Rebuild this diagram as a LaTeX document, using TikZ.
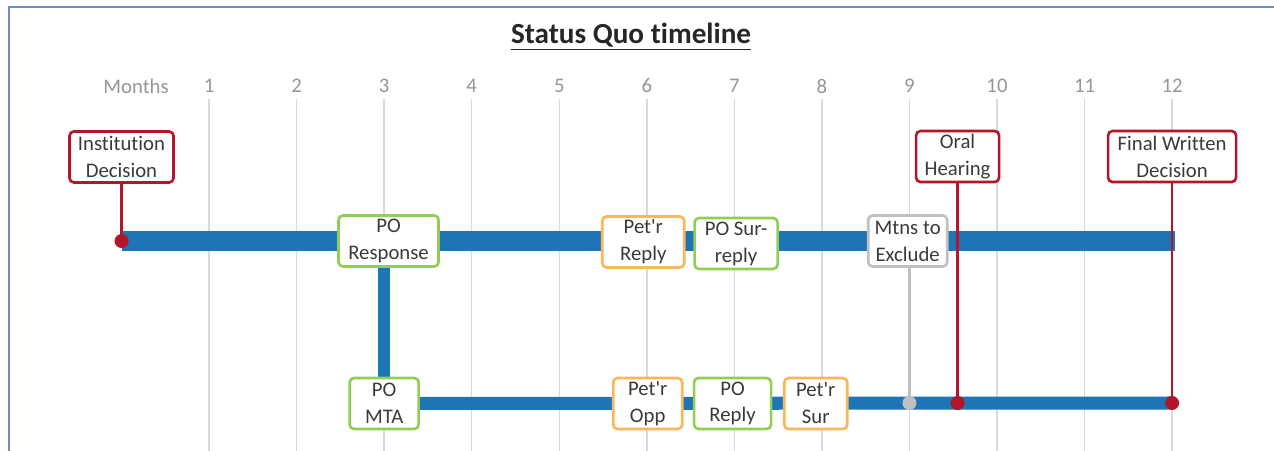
\documentclass[tikz,border=0pt]{standalone}
\usepackage{fontspec}
\setmainfont{Carlito}[Ligatures=CommonOff]
\usetikzlibrary{backgrounds}
\definecolor{barblue}{RGB}{30,117,182}
\definecolor{evred}{RGB}{178,22,40}
\definecolor{evgreen}{RGB}{146,206,84}
\definecolor{evorange}{RGB}{250,182,92}
\definecolor{evgray}{RGB}{192,192,192}
\definecolor{gridgray}{RGB}{217,217,217}
\definecolor{monthgray}{RGB}{150,150,150}
\definecolor{frameblue}{RGB}{105,142,200}
\definecolor{boxtext}{RGB}{58,58,58}
\begin{document}
\begin{tikzpicture}[x=1.751cm, y=1cm,
    every node/.style={font=\fontsize{11.8}{15.3}\selectfont, text=boxtext},
    evt/.style={draw, fill=white, rounded corners=2.5pt, line width=1.5pt,
      align=center, minimum height=1.02cm, inner sep=1pt},
    redbox/.style={evt, draw=evred},
    greenbox/.style={evt, draw=evgreen},
    orangebox/.style={evt, draw=evorange},
    graybox/.style={evt, draw=evgray},
    dot/.style={circle, inner sep=0pt, minimum size=0.28cm},
    grid/.style={gridgray, line width=0.8pt},
    bar/.style={barblue, line width=11.3pt},
    lowbar/.style={barblue, line width=7.4pt},
    stem/.style={evred, line width=1.3pt}]
  \useasboundingbox (-1.388,-4.2) rectangle (13.164,4.82);
  % Frame
  \draw[frameblue, line width=1.2pt] (-1.285,-4.3) -- (-1.285,4.68) -- (13.3,4.68);

  % Title
  \node[text=black!85, font=\fontsize{16.6}{19}\selectfont\bfseries] (title) at (5.82,4.08)
    {\underline{Status Quo timeline}};

  % Months
  \node[anchor=east, text=monthgray] (months) at (0.61,3.1) {Months};
  \foreach \m in {1,...,12}{
    \node[text=monthgray] (m\m) at (\m,3.1) {\m};
  }
  \coordinate (bot) at (0,-4.2);

  % Events
  \node[redbox, minimum width=2.08cm] (inst) at (0,1.68) {Institution\\Decision};
  \node[redbox, minimum width=1.66cm] (oral) at (9.55,1.69) {Oral\\Hearing};
  \node[redbox, minimum width=2.56cm] (final) at (12,1.69) {Final Written\\Decision};

  \node[greenbox, minimum width=2.0cm] (resp) at (3.05,0) {PO\\Response};
  \node[orangebox, minimum width=1.64cm] (reply) at (5.96,-0.02) {Pet\textquotesingle r\\Reply};
  \node[greenbox, minimum width=1.66cm] (surreply) at (7.02,-0.05) {PO Sur-\\reply};
  \node[graybox, minimum width=1.58cm] (mtns) at (8.98,0) {Mtns to\\Exclude};

  \node[greenbox, minimum width=1.38cm] (mta) at (3,-3.25) {PO\\MTA};
  \node[orangebox, minimum width=1.38cm] (opp) at (6.01,-3.25) {Pet\textquotesingle r\\Opp};
  \node[greenbox, minimum width=1.54cm] (poreply) at (6.98,-3.25) {PO\\Reply};
  \node[orangebox, minimum width=1.26cm] (sur) at (7.93,-3.25) {Pet\textquotesingle r\\Sur};

  % Dots
  \node[dot, fill=evred] (d0) at (0,0) {};
  \node[dot, fill=evgray] (dmtns) at (9,-3.24) {};
  \node[dot, fill=evred] (doral) at (9.55,-3.24) {};
  \node[dot, fill=evred] (dfinal) at (12,-3.24) {};
  \coordinate (upend) at (12.03,0);

  % Stems
  \draw[stem] (inst.south) -- (d0.center);
  \draw[stem] (oral.south) -- (doral.center);
  \draw[stem] (final.south) -- (dfinal.center);
  \draw[evgray, line width=1.7pt] (mtns.south -| dmtns) -- (dmtns.center);

  \begin{pgfonlayer}{background}
    \foreach \m in {1,...,12}{
      \draw[grid] (m\m.south) -- (m\m.south |- bot);
    }
    \draw[bar] (d0.center) -- (upend);
    \draw[lowbar] (mta.center) -- (dfinal.center);
    \draw[barblue, line width=6.8pt] (mta.center |- resp.center) -- (mta.center);
  \end{pgfonlayer}
\end{tikzpicture}
\end{document}
